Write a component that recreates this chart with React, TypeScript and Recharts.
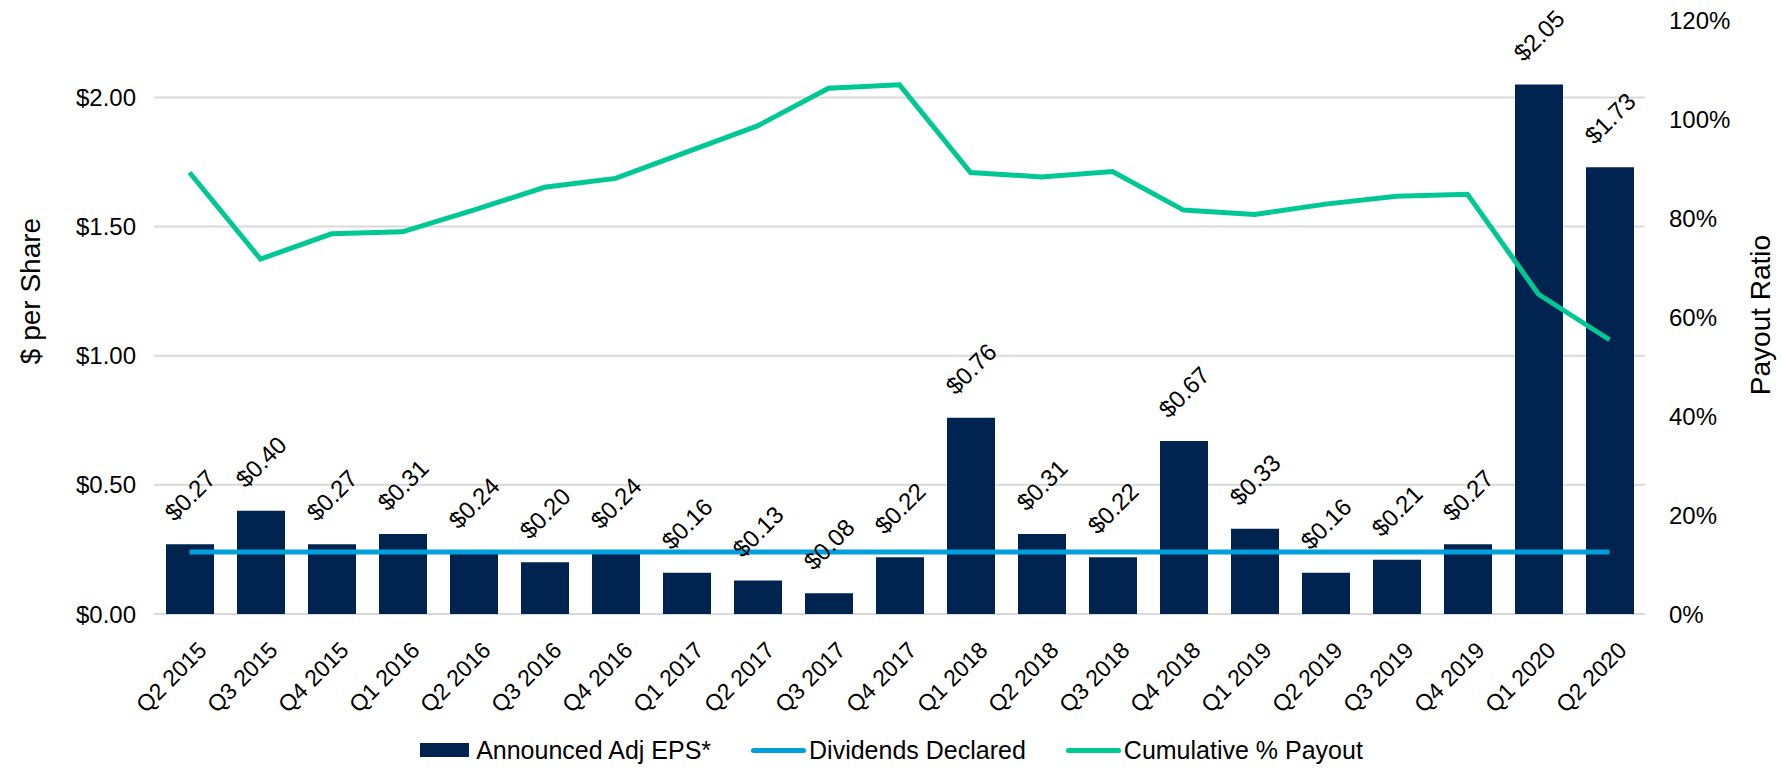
import React from "react";
import {
  ComposedChart,
  Bar,
  Line,
  XAxis,
  YAxis,
  CartesianGrid,
  Legend,
  LabelList,
} from "recharts";

const quarters = [
  "Q2 2015", "Q3 2015", "Q4 2015", "Q1 2016", "Q2 2016", "Q3 2016", "Q4 2016",
  "Q1 2017", "Q2 2017", "Q3 2017", "Q4 2017", "Q1 2018", "Q2 2018", "Q3 2018",
  "Q4 2018", "Q1 2019", "Q2 2019", "Q3 2019", "Q4 2019", "Q1 2020", "Q2 2020",
];

const adjEps = [
  0.27, 0.4, 0.27, 0.31, 0.24, 0.2, 0.24, 0.16, 0.13, 0.08, 0.22, 0.76, 0.31,
  0.22, 0.67, 0.33, 0.16, 0.21, 0.27, 2.05, 1.73,
];

const dividends = [
  0.24, 0.24, 0.24, 0.24, 0.24, 0.24, 0.24, 0.24, 0.24, 0.24, 0.24, 0.24, 0.24,
  0.24, 0.24, 0.24, 0.24, 0.24, 0.24, 0.24, 0.24,
];

const payout = [
  0.892, 0.717, 0.768, 0.772, 0.816, 0.862, 0.88, 0.933, 0.986, 1.062, 1.069,
  0.892, 0.883, 0.894, 0.816, 0.807, 0.828, 0.844, 0.848, 0.646, 0.554,
];

const dollarTicks = [0, 0.5, 1, 1.5, 2];
const pctTicks = [0, 0.2, 0.4, 0.6, 0.8, 1, 1.2];

const data = quarters.map((q, i) => ({
  quarter: q,
  eps: adjEps[i],
  dividend: dividends[i],
  payout: payout[i],
}));

const NAVY = "#00234F";
const BLUE = "#00A0DC";
const GREEN = "#00C895";
const FONT = "'Liberation Sans', Arial, sans-serif";

const legendItems = [
  { label: "Announced Adj EPS*", color: NAVY, kind: "rect" },
  { label: "Dividends Declared", color: BLUE, kind: "line" },
  { label: "Cumulative % Payout", color: GREEN, kind: "line" },
];

const QuarterTick = (props: any) => {
  const { x, y, payload } = props;
  const ax = x + 13;
  const ay = y + 24;
  return (
    <text
      x={ax}
      y={ay}
      transform={`rotate(-45, ${ax}, ${ay})`}
      textAnchor="end"
      dominantBaseline="central"
      fontSize={23}
      fontFamily={FONT}
      fill="#000"
    >
      {payload.value}
    </text>
  );
};

const EpsLabel = (props: any) => {
  const { x, y, width, value } = props;
  const cx = x + width / 2;
  const cy = y - 49;
  return (
    <text
      x={cx}
      y={cy}
      transform={`rotate(-45, ${cx}, ${cy})`}
      textAnchor="middle"
      dominantBaseline="central"
      fontSize={24}
      fontFamily={FONT}
      fill="#000"
    >
      {`$${Number(value).toFixed(2)}`}
    </text>
  );
};

const AxisTitle = (props: any) => {
  const { viewBox, value, side } = props;
  const cy = viewBox.y + viewBox.height / 2 + (side === "left" ? -26 : -2);
  const cx = side === "left" ? 30 : 1760;
  return (
    <text
      x={cx}
      y={cy}
      transform={`rotate(-90, ${cx}, ${cy})`}
      textAnchor="middle"
      dominantBaseline="central"
      fontSize={28}
      fontFamily={FONT}
      fill="#000"
    >
      {value}
    </text>
  );
};

const ChartLegend = () => (
  <div
    style={{
      display: "flex",
      justifyContent: "center",
      alignItems: "center",
      height: 36,
      fontFamily: FONT,
      fontSize: 25,
      color: "#000",
    }}
  >
    {legendItems.map((item) => (
      <div
        key={item.label}
        style={{ display: "flex", alignItems: "center", margin: "0 20px" }}
      >
        {item.kind === "rect" ? (
          <span
            style={{
              display: "inline-block",
              width: 49,
              height: 14,
              background: item.color,
              marginRight: 7,
            }}
          />
        ) : (
          <span
            style={{
              display: "inline-block",
              width: 55,
              height: 5,
              borderRadius: 3,
              background: item.color,
              marginRight: 3,
            }}
          />
        )}
        <span>{item.label}</span>
      </div>
    ))}
  </div>
);

export default function App() {
  return (
    <div
      style={{
        position: "absolute",
        left: 0,
        top: 0,
        width: 1783,
        height: 772,
        background: "#fff",
      }}
    >
      <ComposedChart
        width={1783}
        height={772}
        data={data}
        margin={{ top: 20, right: 0, bottom: 4, left: 0 }}
        barSize={48}
      >
        <CartesianGrid
          yAxisId="left"
          vertical={false}
          horizontalValues={dollarTicks}
          stroke="#d9d9d9"
          strokeWidth={2}
        />
        <XAxis
          dataKey="quarter"
          interval={0}
          axisLine={false}
          tickLine={false}
          height={118}
          tick={<QuarterTick />}
        />
        <YAxis
          yAxisId="left"
          domain={[0, 2.3]}
          ticks={dollarTicks}
          tickFormatter={(v: number) => `$${v.toFixed(2)}`}
          axisLine={false}
          tickLine={false}
          tickSize={0}
          tickMargin={18}
          width={154}
          tick={{ fontSize: 24, fontFamily: FONT, fill: "#000" }}
          label={<AxisTitle value="$ per Share" side="left" />}
        />
        <YAxis
          yAxisId="right"
          orientation="right"
          domain={[0, 1.2]}
          ticks={pctTicks}
          tickFormatter={(v: number) => `${Math.round(v * 100)}%`}
          axisLine={false}
          tickLine={false}
          tickSize={0}
          tickMargin={24}
          width={138}
          tick={{ fontSize: 24, fontFamily: FONT, fill: "#000", textAnchor: "start" }}
          label={<AxisTitle value="Payout Ratio" side="right" />}
        />
        <Legend verticalAlign="bottom" content={<ChartLegend />} />
        <Bar
          yAxisId="left"
          dataKey="eps"
          name="Announced Adj EPS*"
          fill={NAVY}
          isAnimationActive={false}
        >
          <LabelList dataKey="eps" content={<EpsLabel />} />
        </Bar>
        <Line
          yAxisId="left"
          type="linear"
          dataKey="dividend"
          name="Dividends Declared"
          stroke={BLUE}
          strokeWidth={5}
          dot={false}
          activeDot={false}
          isAnimationActive={false}
        />
        <Line
          yAxisId="right"
          type="linear"
          dataKey="payout"
          name="Cumulative % Payout"
          stroke={GREEN}
          strokeWidth={5}
          dot={false}
          activeDot={false}
          isAnimationActive={false}
        />
      </ComposedChart>
    </div>
  );
}
